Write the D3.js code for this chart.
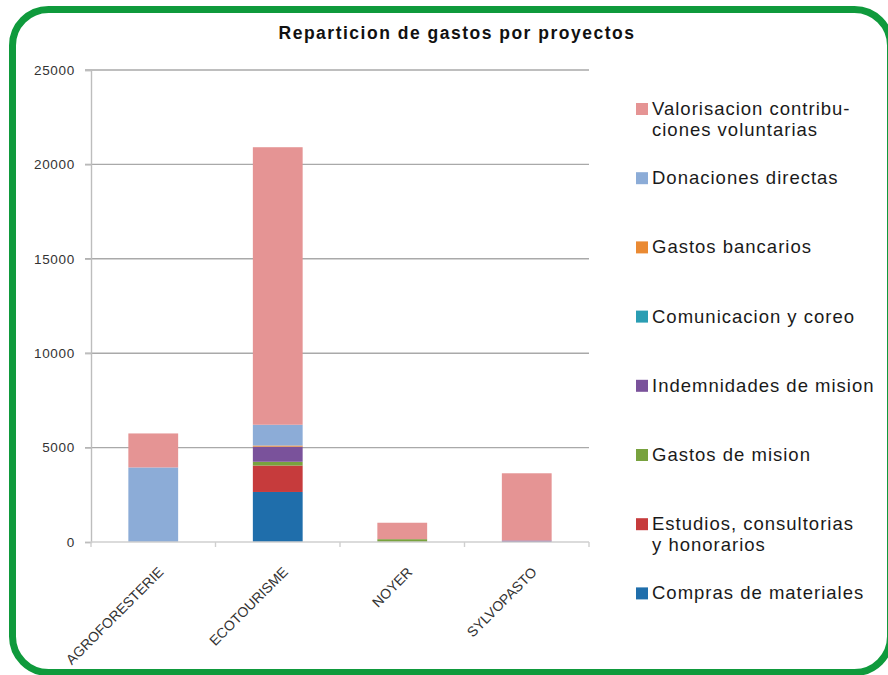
<!DOCTYPE html>
<html>
<head>
<meta charset="utf-8">
<script src="https://cdn.jsdelivr.net/npm/d3@7"></script>
<style>
  body { margin: 0; background: #fff; }
  svg { display: block; }
</style>
</head>
<body>
<script>
// categories (x axis)
var categories = ["AGROFORESTERIE", "ECOTOURISME", "NOYER", "SYLVOPASTO"];

// series values, stacked bottom -> top
var compras        = [0,    2650,  0,   0];
var estudios       = [0,    1400,  0,   0];
var gastosMision   = [0,    200,   150, 0];
var indemnidades   = [0,    800,   0,   80];
var comunicacion   = [0,    0,     0,   0];
var gastosBanc     = [0,    60,    0,   0];
var donaciones     = [3950, 1100,  0,   0];
var valorisacion   = [1800, 14700, 870, 3560];

var seriesKeys = ["compras", "estudios", "gastosMision", "indemnidades",
                  "comunicacion", "gastosBanc", "donaciones", "valorisacion"];
var seriesValues = [compras, estudios, gastosMision, indemnidades,
                    comunicacion, gastosBanc, donaciones, valorisacion];
var seriesColors = ["#1f6eab", "#c63b3c", "#78a23e", "#7a529b",
                    "#2a9db3", "#ea8a33", "#8cacd7", "#e59494"];

// legend, top -> bottom
var legendKeys = ["valorisacion", "donaciones", "gastosBanc", "comunicacion",
                  "indemnidades", "gastosMision", "estudios", "compras"];
var legendLabels = [
  ["Valorisacion contribu-", "ciones voluntarias"],
  ["Donaciones directas"],
  ["Gastos bancarios"],
  ["Comunicacion y coreo"],
  ["Indemnidades de mision"],
  ["Gastos de mision"],
  ["Estudios, consultorias", "y honorarios"],
  ["Compras de materiales"]
];

var yTicks = [0, 5000, 10000, 15000, 20000, 25000];

var W = 888, H = 675;
var margin = { top: 70, left: 91, right: 299, bottom: 133 };
var width = W - margin.left - margin.right,
    height = H - margin.top - margin.bottom;

var svg = d3.select("body").append("svg")
  .attr("width", W)
  .attr("height", H);

// green rounded frame (right edge runs off the picture)
svg.append("rect")
  .attr("x", 12.5).attr("y", 9.5)
  .attr("width", 878).attr("height", 663)
  .attr("rx", 36).attr("ry", 36)
  .attr("fill", "#fff")
  .attr("stroke", "#0f9a3c")
  .attr("stroke-width", 7);

// title
svg.append("text")
  .attr("x", 457).attr("y", 39)
  .attr("text-anchor", "middle")
  .style("font-family", "'Liberation Sans', Arial, sans-serif")
  .style("font-weight", "bold")
  .style("font-size", "17.5px")
  .style("letter-spacing", "1.5px")
  .attr("fill", "#111")
  .text("Reparticion de gastos por proyectos");

var g = svg.append("g")
  .attr("transform", "translate(" + margin.left + "," + margin.top + ")");

// scales
var x = d3.scaleBand().domain(categories).range([0, width]).paddingInner(0.6).paddingOuter(0.3);
var xTicks = d3.scaleBand().domain(categories).range([0, width]);
var y = d3.scaleLinear().domain([0, 25000]).range([height, 0]);

// gridlines
g.append("g")
  .selectAll("line")
  .data(yTicks.slice(1))
  .enter().append("line")
  .attr("x1", -6).attr("x2", width)
  .attr("y1", function (d) { return y(d); })
  .attr("y2", function (d) { return y(d); })
  .attr("stroke", "#a9a9a9")
  .attr("stroke-width", 1.4);

// y axis
var yAxis = g.append("g")
  .call(d3.axisLeft(y).tickValues(yTicks).tickSize(6).tickFormat(d3.format("d")));
yAxis.select(".domain").attr("stroke", "#bdbdbd").attr("stroke-width", 1.4);
yAxis.selectAll(".tick line").attr("stroke", "#bdbdbd").attr("stroke-width", 1.4);
yAxis.selectAll(".tick text")
  .attr("x", -16)
  .style("font-family", "'Liberation Sans', Arial, sans-serif")
  .style("font-size", "13.5px")
  .style("letter-spacing", "0.7px")
  .attr("fill", "#333");

// stacked bars
var table = categories.map(function (c, i) {
  var row = { cat: c };
  seriesKeys.forEach(function (k, j) { row[k] = seriesValues[j][i]; });
  return row;
});
var stacked = d3.stack().keys(seriesKeys)(table);

g.append("g")
  .selectAll("g")
  .data(stacked)
  .enter().append("g")
  .attr("fill", function (d, i) { return seriesColors[i]; })
  .selectAll("rect")
  .data(function (d) { return d; })
  .enter().append("rect")
  .attr("x", function (d) { return x(d.data.cat); })
  .attr("width", x.bandwidth())
  .attr("y", function (d) { return y(d[1]); })
  .attr("height", function (d) { return y(d[0]) - y(d[1]); });

// x axis line and ticks at band edges
var xAxis = g.append("g").attr("transform", "translate(0," + height + ")");
xAxis.append("line")
  .attr("x1", 0).attr("x2", width)
  .attr("stroke", "#cfcfcf").attr("stroke-width", 1.4);
xAxis.selectAll(".xt")
  .data(categories.concat(["end"]))
  .enter().append("line")
  .attr("class", "xt")
  .attr("x1", function (d, i) { return i * xTicks.bandwidth(); })
  .attr("x2", function (d, i) { return i * xTicks.bandwidth(); })
  .attr("y1", 0).attr("y2", 5)
  .attr("stroke", "#cfcfcf").attr("stroke-width", 1.4);

xAxis.selectAll(".xl")
  .data(categories)
  .enter().append("text")
  .attr("class", "xl")
  .attr("text-anchor", "end")
  .attr("transform", function (d) {
    return "translate(" + (xTicks(d) + xTicks.bandwidth() / 2 + 11) + ",31) rotate(-45)";
  })
  .style("font-family", "'Liberation Sans', Arial, sans-serif")
  .style("font-size", "14px")
  .attr("fill", "#333")
  .text(function (d) { return d; });

// legend
var legend = svg.append("g")
  .selectAll("g")
  .data(legendKeys)
  .enter().append("g")
  .attr("transform", function (d, i) { return "translate(636," + (115 + i * 69.2) + ")"; });

legend.append("rect")
  .attr("x", 0).attr("y", -12)
  .attr("width", 12).attr("height", 12)
  .attr("fill", function (d) { return seriesColors[seriesKeys.indexOf(d)]; });

legend.append("text")
  .attr("x", 16)
  .style("font-family", "'Liberation Sans', Arial, sans-serif")
  .style("font-size", "18.5px")
  .style("letter-spacing", "1px")
  .attr("fill", "#1a1a1a")
  .selectAll("tspan")
  .data(function (d, i) { return legendLabels[i]; })
  .enter().append("tspan")
  .attr("x", 16)
  .attr("dy", function (d, i) { return i === 0 ? 0 : 20.5; })
  .text(function (d) { return d; });
</script>
</body>
</html>
